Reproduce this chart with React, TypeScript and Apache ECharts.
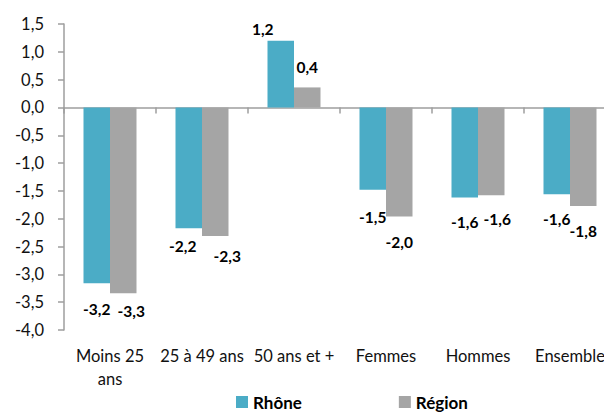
import React, { useEffect, useRef } from "react";
import * as echarts from "echarts";

const categories = ["Moins 25 ans", "25 à 49 ans", "50 ans et +", "Femmes", "Hommes", "Ensemble"];
const rhoneValues = [-3.16, -2.17, 1.2, -1.48, -1.62, -1.56];
const regionValues = [-3.34, -2.31, 0.36, -1.96, -1.58, -1.77];
const yTicks = { min: -4, max: 1.5, interval: 0.5 };

// label nudges (pixels), kept apart from the values
const rhoneLabelOffsets = [[0, 18], [-6, 10], [-18, -4], [0, 19], [0, 16], [0, 17]];
const regionLabelOffsets = [[8, 10], [12, 12], [0, -12], [0, 17], [6, 16], [0, 17]];

const FONT = "Lato";
const AXIS_COLOR = "#9e9e9e";

const fmt = (v: number) => v.toFixed(1).replace(".", ",");

function buildData(values: number[], offsets: number[][]) {
  return values.map((v, i) => ({
    value: v,
    label: { position: v < 0 ? "bottom" : "top", offset: offsets[i] },
  }));
}

export default function App() {
  const ref = useRef<HTMLDivElement>(null);
  useEffect(() => {
    if (!ref.current) return;
    const chart = echarts.init(ref.current, undefined, { renderer: "svg" });
    const labelStyle = {
      show: true,
      distance: 0,
      fontFamily: FONT,
      fontWeight: "bold",
      fontSize: 15.5,
      color: "#000",
      formatter: (p: any) => fmt(p.value),
    };
    chart.setOption({
      animation: false,
      backgroundColor: "#fff",
      textStyle: { fontFamily: FONT },
      grid: { left: 64, top: 24, width: 552, height: 306, containLabel: false },
      legend: {
        left: 231,
        top: 388,
        itemWidth: 12,
        itemHeight: 12,
        itemGap: 97,
        icon: "rect",
        textStyle: { fontFamily: FONT, fontWeight: "bold", fontSize: 17, lineHeight: 18, color: "#000" },
        data: ["Rhône", "Région"],
      },
      xAxis: [
        {
          type: "category",
          data: categories,
          position: "bottom",
          axisLine: { show: false, onZero: false },
          axisTick: { show: false },
          axisLabel: {
            interval: 0,
            margin: 14,
            fontFamily: FONT,
            fontSize: 16.5,
            lineHeight: 23,
            color: "#111",
            formatter: (v: string) => (v === "Moins 25 ans" ? "Moins 25\nans" : v),
          },
        },
        {
          type: "category",
          data: categories,
          position: "top",
          axisLine: { show: true, onZero: true, lineStyle: { color: AXIS_COLOR, width: 1.5 } },
          axisTick: { show: true, inside: true, length: 6, alignWithLabel: false, lineStyle: { color: AXIS_COLOR, width: 1.5 } },
          axisLabel: { show: false },
          splitLine: { show: false },
        },
      ],
      yAxis: {
        type: "value",
        min: yTicks.min,
        max: yTicks.max,
        interval: yTicks.interval,
        axisLine: { show: true, lineStyle: { color: AXIS_COLOR, width: 1.5 } },
        axisTick: { show: true, length: 6, lineStyle: { color: AXIS_COLOR, width: 1.5 } },
        splitLine: { show: false },
        axisLabel: {
          margin: 20,
          fontFamily: FONT,
          fontSize: 16.5,
          color: "#111",
          formatter: (v: number) => fmt(v),
        },
      },
      series: [
        {
          name: "Rhône",
          type: "bar",
          xAxisIndex: 0,
          barWidth: 26.5,
          barGap: "0%",
          itemStyle: { color: "#4BACC6" },
          label: labelStyle,
          data: buildData(rhoneValues, rhoneLabelOffsets),
        },
        {
          name: "Région",
          type: "bar",
          xAxisIndex: 0,
          barWidth: 26.5,
          barGap: "0%",
          itemStyle: { color: "#A5A5A5" },
          label: labelStyle,
          data: buildData(regionValues, regionLabelOffsets),
        },
      ],
    });
    return () => chart.dispose();
  }, []);
  return (
    <div style={{ width: 604, height: 413, position: "absolute", left: 0, top: 0, overflow: "hidden", background: "#fff" }}>
      <div ref={ref} style={{ width: 630, height: 413 }} />
    </div>
  );
}
